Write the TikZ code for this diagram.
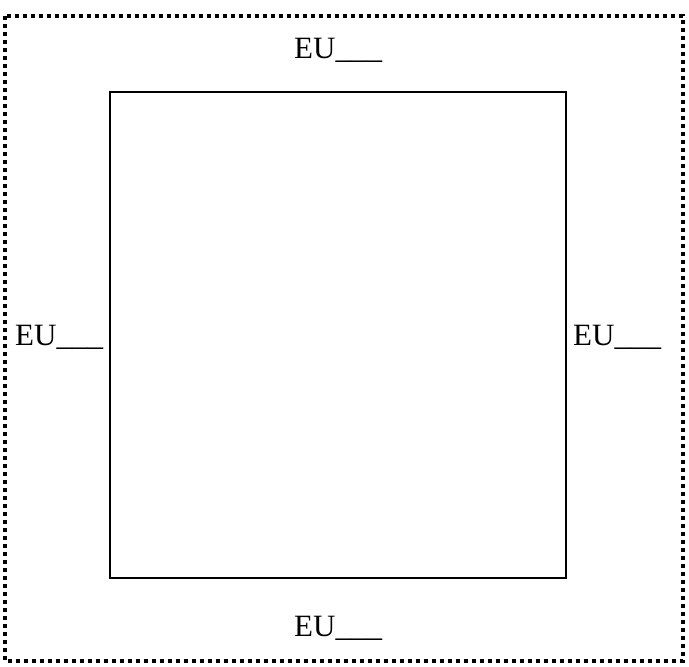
\documentclass[tikz,border=0pt]{standalone}
\usepackage{fontspec}
\setmainfont{Liberation Serif}
\begin{document}
\begin{tikzpicture}[x=1pt,y=-1pt,
  lbl/.style={anchor=base west,inner sep=0pt,font=\fontsize{31}{33}\selectfont},
  outerbox/.style={line width=3.6pt,dash pattern=on 3.6pt off 4.4pt},
  innerbox/.style={line width=2.2pt}]
\useasboundingbox (0,0) rectangle (689,667);
\draw[outerbox] (5,16) rectangle (683,661);
\draw[innerbox] (110,92) rectangle (566,578);
\node[lbl] (top) at (294,58) {EU\_\_\_};
\node[lbl] (left) at (15,345) {EU\_\_\_};
\node[lbl] (right) at (573,345) {EU\_\_\_};
\node[lbl] (bottom) at (294,636) {EU\_\_\_};
\end{tikzpicture}
\end{document}
